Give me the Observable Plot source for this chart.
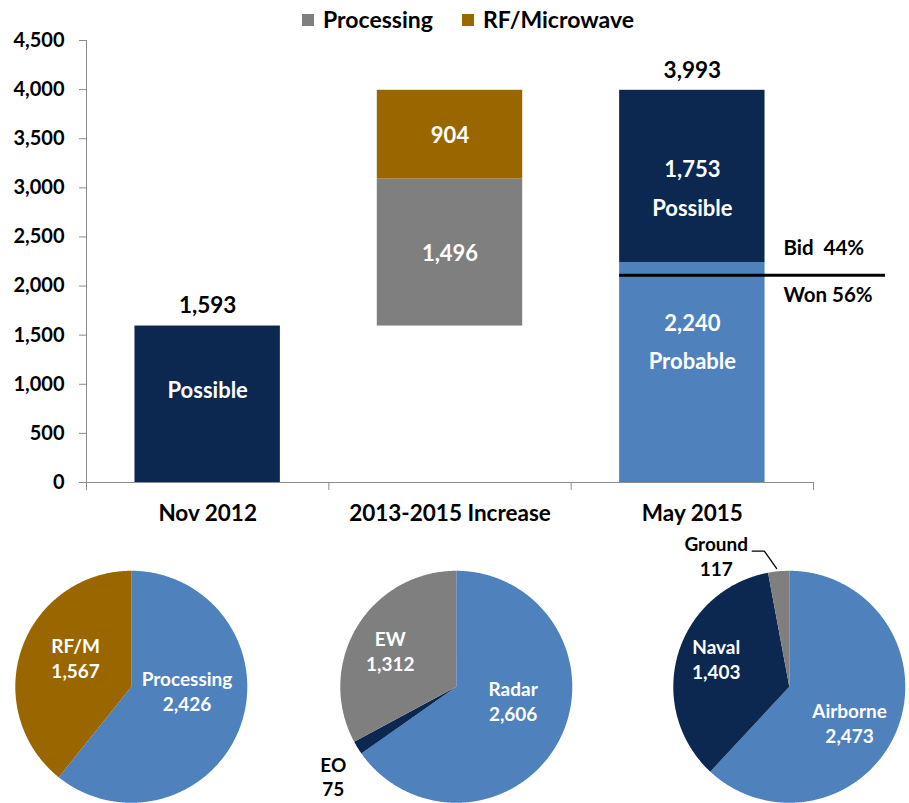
<!DOCTYPE html>
<html><head><meta charset="utf-8">
<script src="https://cdn.jsdelivr.net/npm/d3@7"></script>
<script src="https://cdn.jsdelivr.net/npm/@observablehq/plot@0.6"></script>
<style>
html,body{margin:0;padding:0;overflow:hidden;background:#fff;}
#root{position:relative;width:909px;height:803px;overflow:hidden;font-family:Lato,sans-serif;font-weight:bold;color:#000;}
#root svg{position:absolute;overflow:visible;}
.sw{position:absolute;width:12px;height:12px;top:14px;}
.lt{position:absolute;top:5px;line-height:28px;font-size:23px;white-space:nowrap;}
</style></head><body><div id="root"></div>
<script>
// ---------- data ----------
const categories = ["Nov 2012", "2013-2015 Increase", "May 2015"];
const yTicks = [0, 500, 1000, 1500, 2000, 2500, 3000, 3500, 4000, 4500];
const nov2012Possible = 1593;
const increaseProcessing = 1496;
const increaseRF = 904;
const may2015Probable = 2240;
const may2015Possible = 1753;
const may2015Total = 3993;
const bidWonLevel = 2110;
const bidShare = "44%";
const wonShare = "56%";
const legendItems = ["Processing", "RF/Microwave"];

const pie1Names = ["Processing", "RF/M"];
const pie1Values = [2426, 1567];
const pie2Names = ["Radar", "EO", "EW"];
const pie2Values = [2606, 75, 1312];
const pie3Names = ["Airborne", "Naval", "Ground"];
const pie3Values = [2473, 1403, 117];

// ---------- styles ----------
const navy = "#0c2851", blue = "#4f81bd", gray = "#7f7f7f", brown = "#996600", axisGray = "#8c8c8c";
const kinds = ["Possible", "Processing", "RF/Microwave", "Probable"];
const kindColors = [navy, gray, brown, blue];
const fmt = d3.format(",");
const root = document.getElementById("root");

// ---------- legend ----------
const legendX = [302, 462];
legendItems.forEach((name, k) => {
  const sw = document.createElement("div");
  sw.className = "sw"; sw.style.left = legendX[k] + "px";
  sw.style.background = kindColors[kinds.indexOf(name)];
  root.appendChild(sw);
  const t = document.createElement("div");
  t.className = "lt"; t.style.left = (legendX[k] + 21) + "px"; t.textContent = name;
  root.appendChild(t);
});

// ---------- bar chart ----------
const top1 = nov2012Possible + increaseProcessing;
const segments = [
  {i: 0, kind: "Possible", y1: 0, y2: nov2012Possible},
  {i: 1, kind: "Processing", y1: nov2012Possible, y2: top1},
  {i: 1, kind: "RF/Microwave", y1: top1, y2: top1 + increaseRF},
  {i: 2, kind: "Probable", y1: 0, y2: may2015Probable},
  {i: 2, kind: "Possible", y1: may2015Probable, y2: may2015Probable + may2015Possible}
];
const totals = [{i: 0, v: nov2012Possible}, {i: 2, v: may2015Total}];
const innerMid = [
  {i: 1, v: (nov2012Possible + top1) / 2, t: fmt(increaseProcessing)},
  {i: 1, v: (top1 + top1 + increaseRF) / 2, t: fmt(increaseRF)}
];
const innerNov = [{i: 0, v: nov2012Possible / 2, t: "Possible"}];
const innerMayTop = [{i: 2, v: may2015Probable + may2015Possible / 2, t: fmt(may2015Possible) + "\nPossible"}];
const innerMayBottom = [{i: 2, v: may2015Probable / 2, t: fmt(may2015Probable) + "\nProbable"}];
const innerOpts = {x: d => d.i + 0.5, y: "v", text: "t", fontSize: 22, fill: "#fff", lineHeight: 1.75};

const bar = Plot.plot({
  width: 909, height: 530,
  marginLeft: 86, marginRight: 96, marginTop: 40, marginBottom: 48,
  x: {domain: [0, 3]},
  y: {domain: [0, 4500]},
  color: {domain: kinds, range: kindColors},
  style: {fontFamily: "Lato, sans-serif", fontWeight: "bold", fontSize: "20px", color: "#000", background: "transparent"},
  marks: [
    Plot.rectY(segments, {x1: d => d.i + 0.2, x2: d => d.i + 0.8, y1: "y1", y2: "y2", fill: "kind"}),
    Plot.ruleX([0], {y1: 0, y2: 4500, stroke: axisGray}),
    Plot.ruleY([0], {x1: 0, x2: 3, stroke: axisGray}),
    Plot.axisY({ticks: yTicks, tickSize: 7, tickPadding: 15, tickFormat: fmt, stroke: axisGray, label: null, fontSize: 20}),
    Plot.axisX({ticks: [0, 1, 2, 3], tickSize: 8, tickFormat: () => "", stroke: axisGray, label: null}),
    Plot.axisX({ticks: [0.5, 1.5, 2.5], tickSize: 0, tickPadding: 23, tickFormat: d => categories[Math.floor(d)], label: null, fontSize: 22.5}),
    Plot.text(totals, {x: d => d.i + 0.5, y: "v", text: d => fmt(d.v), dy: -20, fontSize: 22.5, fill: "#000"}),
    Plot.text(innerMid, {...innerOpts, dy: -4}),
    Plot.text(innerNov, {...innerOpts, dy: -19}),
    Plot.text(innerMayTop, {...innerOpts, dy: 8}),
    Plot.text(innerMayBottom, {...innerOpts, dy: -35}),
    Plot.ruleY([bidWonLevel], {x1: 2.2, x2: 3.297, stroke: "#000", strokeWidth: 3}),
    Plot.text([bidWonLevel], {x: 2.876, y: d => d, text: () => "Bid  " + bidShare, textAnchor: "start", dy: -27, fontSize: 20.5, fill: "#000"}),
    Plot.text([bidWonLevel], {x: 2.876, y: d => d, text: () => "Won " + wonShare, textAnchor: "start", dy: 20, fontSize: 20.5, fill: "#000"})
  ]
});
bar.style.left = "0px"; bar.style.top = "0px";
root.appendChild(bar);

// ---------- pies ----------
const pieColors = {
  "Processing": blue, "RF/M": brown,
  "Radar": blue, "EO": navy, "EW": gray,
  "Airborne": blue, "Naval": navy, "Ground": gray
};
const R = 116;
function pieChart(names, values, cx, cy, labels, extra = []) {
  const arcs = d3.pie().sort(null).startAngle(0).endAngle(2 * Math.PI)(values);
  const pts = [];
  arcs.forEach((a, k) => {
    const name = names[k];
    pts.push({name, x: 0, y: 0});
    const n = Math.max(2, Math.ceil((a.endAngle - a.startAngle) / (Math.PI / 360)));
    for (let j = 0; j <= n; ++j) {
      const th = a.startAngle + (a.endAngle - a.startAngle) * j / n;
      pts.push({name, x: Math.sin(th), y: Math.cos(th)});
    }
  });
  const lab = names.map((name, k) => ({name, value: values[k], ...labels[k]}));
  const x0 = -1.3, x1 = 1.3, y0 = -1.03, y1 = 1.33;
  const w = (x1 - x0) * R, h = (y1 - y0) * R;
  const svg = Plot.plot({
    width: w, height: h, margin: 0,
    x: {domain: [x0, x1], axis: null},
    y: {domain: [y0, y1], axis: null},
    color: {domain: Object.keys(pieColors), range: Object.values(pieColors)},
    style: {fontFamily: "Lato, sans-serif", fontWeight: "bold", fontSize: "19px", background: "transparent", overflow: "visible"},
    marks: [
      Plot.line(pts, {x: "x", y: "y", z: "name", fill: "name", stroke: "none", curve: "linear-closed"}),
      Plot.text(lab, {x: "lx", y: "ly", text: d => d.name + "\n" + fmt(d.value), fill: d => d.dark ? "#000" : "#fff", lineHeight: 1.3, fontSize: 19}),
      ...extra
    ]
  });
  svg.style.left = (cx + x0 * R) + "px";
  svg.style.top = (cy - y1 * R) + "px";
  root.appendChild(svg);
}
pieChart(pie1Names, pie1Values, 131, 686, [
  {lx: 0.48, ly: -0.03}, {lx: -0.48, ly: 0.25}
]);
pieChart(pie2Names, pie2Values, 456, 686, [
  {lx: 0.49, ly: -0.12}, {lx: -1.06, ly: -0.77, dark: true}, {lx: -0.57, ly: 0.31}
]);
pieChart(pie3Names, pie3Values, 789, 686, [
  {lx: 0.52, ly: -0.31}, {lx: -0.63, ly: 0.24}, {lx: -0.63, ly: 1.13, dark: true}
], [
  Plot.line([{x: -0.32, y: 1.17}, {x: -0.215, y: 1.17}, {x: -0.11, y: 1.02}], {x: "x", y: "y", stroke: "#000", strokeWidth: 1.3})
]);
</script></body></html>
